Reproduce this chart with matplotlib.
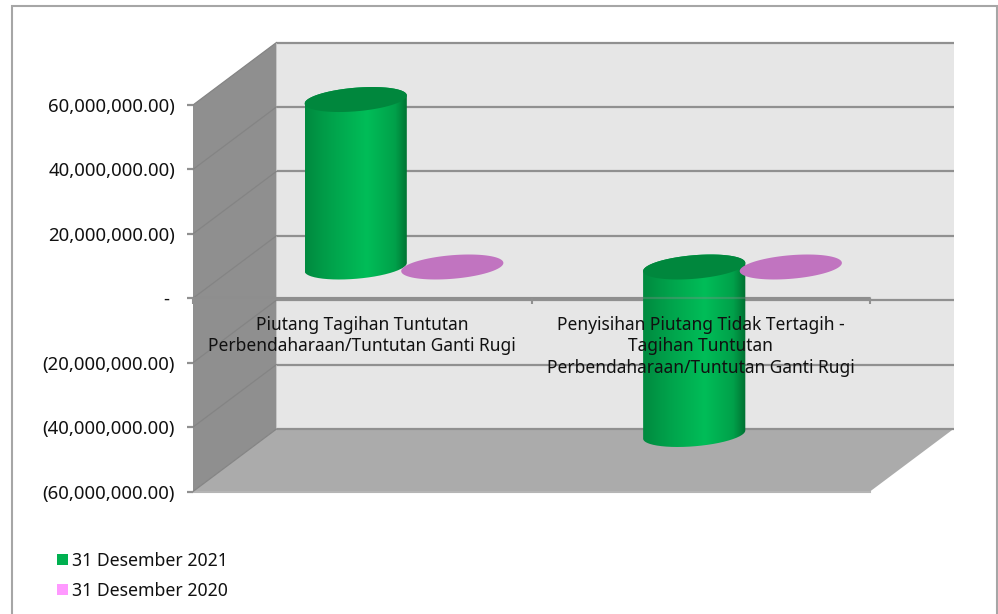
import numpy as np
import matplotlib
matplotlib.use("Agg")
import matplotlib.pyplot as plt
from matplotlib.colors import LinearSegmentedColormap
from matplotlib.patches import Patch, PathPatch, Polygon, Rectangle
from matplotlib.path import Path

plt.rcParams["font.family"] = ["Noto Sans", "DejaVu Sans"]

categories = ["Piutang Tagihan Tuntutan\nPerbendaharaan/Tuntutan Ganti Rugi",
              "Penyisihan Piutang Tidak Tertagih -\nTagihan Tuntutan\nPerbendaharaan/Tuntutan Ganti Rugi"]
series_names = ["31 Desember 2021", "31 Desember 2020"]
values_2021 = [52000000, -52000000]
values_2020 = [0, 0]
y_ticks = [60000000, 40000000, 20000000, 0, -20000000, -40000000, -60000000]
y_labels = ["60,000,000.00)", "40,000,000.00)", "20,000,000.00)", "- ",
            "(20,000,000.00)", "(40,000,000.00)", "(60,000,000.00)"]

W, H = 998, 614
GRID = "#909090"
INK = "#111111"

fig = plt.figure(figsize=(W / 100, H / 100), dpi=100)
fig.add_artist(Rectangle((11.5 / W, -0.05), 985 / W, 1.05 - 5.5 / H, fill=False,
                         edgecolor="#a6a6a6", linewidth=1.5, transform=fig.transFigure))

# front plane of the 3d box
ax = fig.add_axes([193 / W, 1 - 491.5 / H, 677 / W, 386.5 / H])
ax.patch.set_visible(False)
ax.set_axisbelow(False)

# oblique depth, in data units
px_x = 677 / 2
px_y = 386.5 / 120000000
depth_x = 83.5 / px_x
depth_y = 62.5 / px_y
ymin, ymax = -60000000, 60000000


def poly(pts, color, z):
    ax.add_patch(Polygon(pts, closed=True, facecolor=color, edgecolor="none",
                         linewidth=0, zorder=z, clip_on=False))


poly([(0, ymin), (depth_x, ymin + depth_y), (depth_x, ymax + depth_y), (0, ymax)], "#8f8f8f", 1)
poly([(depth_x, ymin + depth_y), (2 + depth_x, ymin + depth_y),
      (2 + depth_x, ymax + depth_y), (depth_x, ymax + depth_y)], "#e6e6e6", 1)
poly([(0, ymin), (2, ymin), (2 + depth_x, ymin + depth_y), (depth_x, ymin + depth_y)], "#ababab", 1.1)
ax.plot([0, 2], [ymin, ymin], color="#b5b5b5", lw=1.5, zorder=1.2, clip_on=False)

for v in y_ticks:
    ax.plot([depth_x, 2 + depth_x], [v + depth_y, v + depth_y], color=GRID, lw=1.6,
            zorder=1.2, clip_on=False, solid_capstyle="butt")
    ax.plot([0, depth_x], [v, v + depth_y], color="#848484", lw=0.9, zorder=1.2, clip_on=False)
ax.plot([0, 2], [0, 0], color=GRID, lw=2.2, zorder=1.3, clip_on=False, solid_capstyle="butt")

# round bars sit half way into the box
half_w = 48.3 / px_x
sx = 0.2 * depth_x
sy = 0.2 * depth_y
tilt = np.arctan2(0.2 * 83.5, 48.3)
body_cmap = LinearSegmentedColormap.from_list(
    "body", [(0, "#008a3f"), (0.25, "#00a24b"), (0.6, "#00bd58"), (0.88, "#00a04a"), (1, "#006f31")])


def ring(cx, y, a, b):
    t = np.linspace(a, b, 80)
    return np.column_stack([cx + half_w * np.cos(t) + sx * np.sin(t), y + sy * np.sin(t)])


def cylinder(x, value, body, cap, z):
    cx = x + depth_x / 2
    base = depth_y / 2
    top = base + max(value, 0)
    bot = base + min(value, 0)
    if value != 0:
        outline = np.vstack([ring(cx, top, tilt, tilt + np.pi), ring(cx, bot, tilt + np.pi, tilt + 2 * np.pi)])
        clip = PathPatch(Path(np.vstack([outline, outline[0]])), transform=ax.transData,
                         facecolor="none", edgecolor="none")
        ax.add_patch(clip)
        extent = np.hypot(half_w, sx)
        im = ax.imshow(np.linspace(0, 1, 256).reshape(1, -1), cmap=body, aspect="auto",
                       extent=[cx - extent, cx + extent, bot - sy, top + sy], zorder=z)
        im.set_clip_path(clip)
        im.set_clip_box(fig.bbox)
    poly(ring(cx, top, 0, 2 * np.pi), cap, z + 0.01)


for i in range(len(categories)):
    cylinder(i + 0.5 - half_w, values_2021[i], body_cmap, "#00873d", 2)
    cylinder(i + 0.5 + half_w, values_2020[i], body_cmap, "#c174c0", 2.1)

ax.set_xlim(0, 2)
ax.set_ylim(ymin, ymax)

for side in ["top", "left", "right"]:
    ax.spines[side].set_visible(False)
ax.spines["bottom"].set_position(("data", 0))
ax.spines["bottom"].set_color((0.55, 0.55, 0.55, 0.35))
ax.spines["bottom"].set_linewidth(1.6)

ax.set_yticks(y_ticks, y_labels, fontsize=13.4, color=INK)
ax.tick_params(axis="y", length=4.3, width=1.6, color=GRID, pad=8.5)
ax.set_xticks([0, 1, 2], ["", "", ""])
ax.tick_params(axis="x", which="major", length=4, width=1.5, color=GRID)
ax.set_xticks([0.5, 1.5], categories, minor=True, fontsize=12.5, color=INK)
ax.tick_params(axis="x", which="minor", length=0, pad=12.5)
for lab in ax.get_xticklabels(minor=True):
    lab.set_linespacing(1.27)

handles = [Patch(facecolor="#00b050", label=series_names[0]),
           Patch(facecolor="#ff99ff", label=series_names[1])]
fig.legend(handles=handles, loc="lower left", bbox_to_anchor=(57 / W, 1 - 599.5 / H), frameon=False,
           fontsize=12.7, borderpad=0, borderaxespad=0, handlelength=0.62, handleheight=0.62,
           handletextpad=0.22, labelspacing=0.68, labelcolor=INK)

fig.savefig("out.png", dpi=100)
